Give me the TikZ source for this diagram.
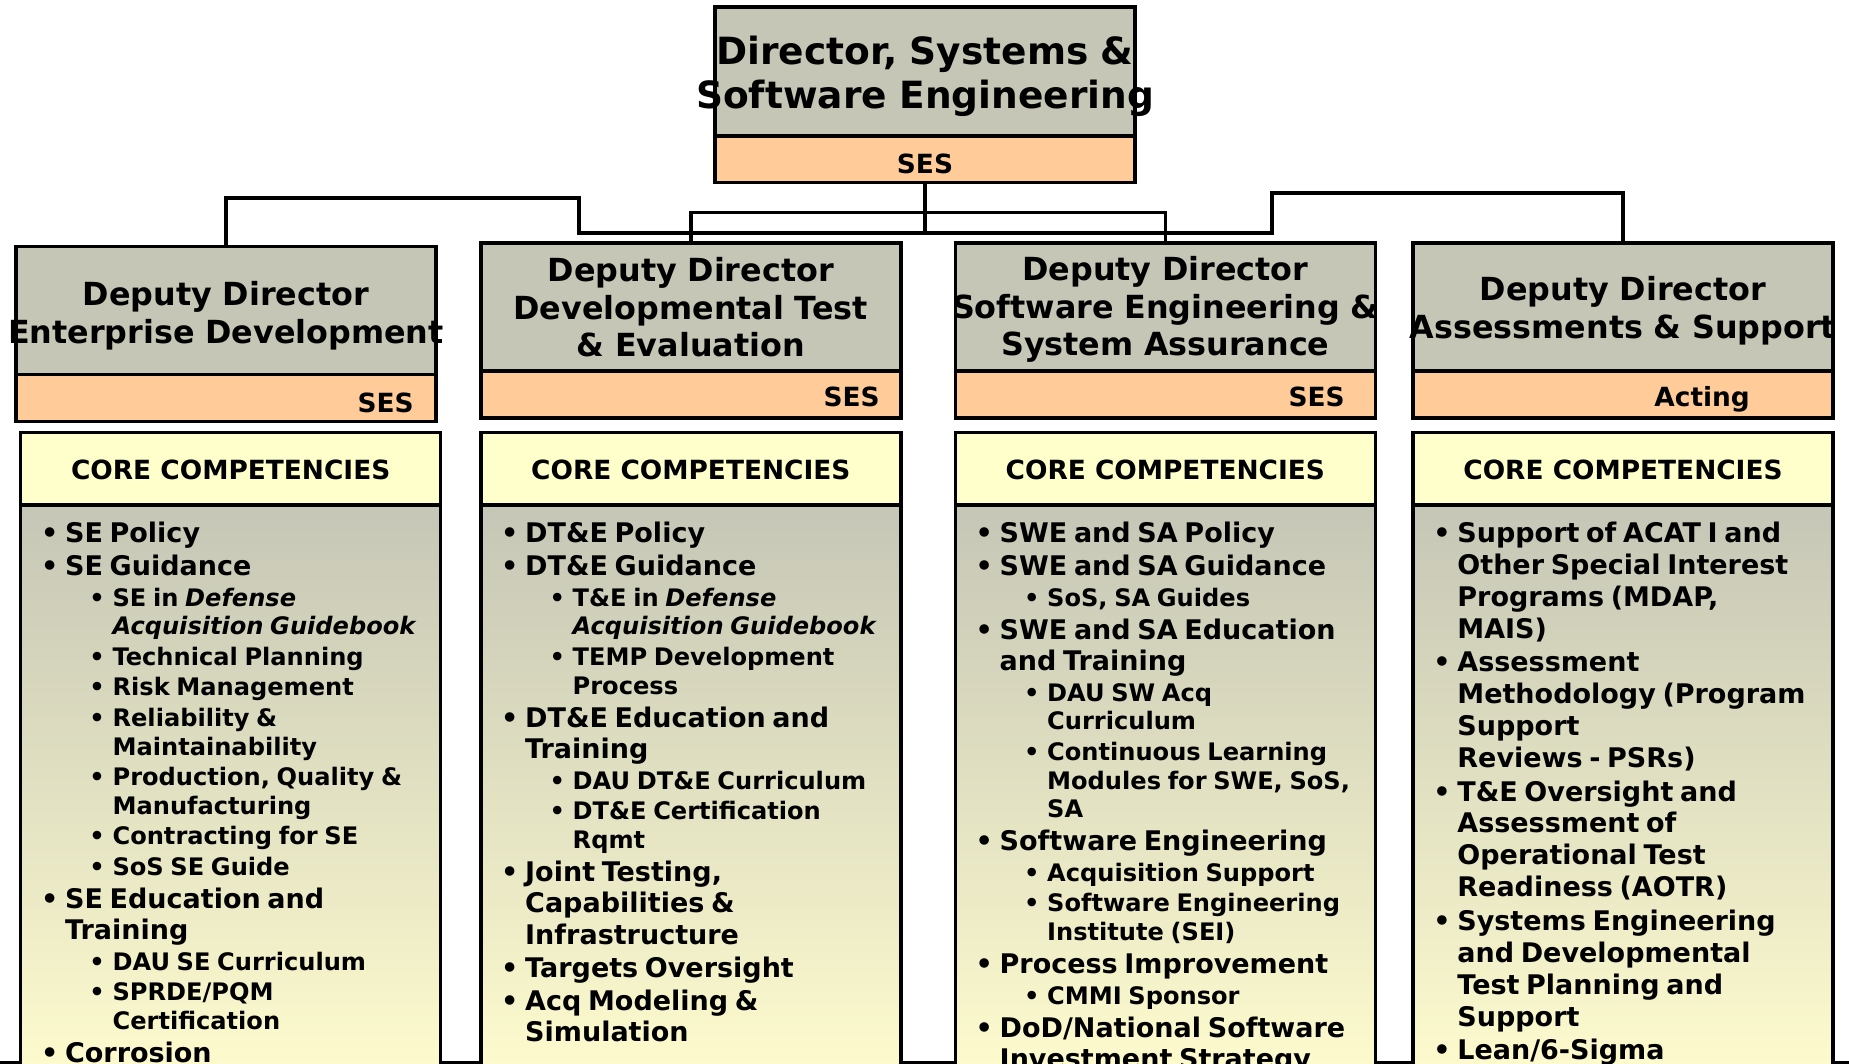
\documentclass[tikz,border=0pt]{standalone}
\usepackage{fontspec}
\setmainfont{DejaVu Sans}
\usetikzlibrary{positioning}

\definecolor{hdgray}{RGB}{197,198,182}
\definecolor{peach}{RGB}{255,204,153}
\definecolor{cream}{RGB}{255,255,204}
\definecolor{paleyel}{RGB}{255,252,206}

% list lines: level one / level two, new item or continued line
\newcommand\skA{16.6pt}
\newcommand\skAc{15.65pt}
\newcommand\lvA[1]{{\fontsize{13.5pt}{\skA}\selectfont\leavevmode\hspace*{10pt}\makebox[12pt][l]{\textbullet}#1\par}}
\newcommand\lvAc[1]{{\fontsize{13.5pt}{\skAc}\selectfont\leavevmode\hspace*{22pt}#1\par}}
\newcommand\lvB[1]{{\fontsize{12.05pt}{15.25pt}\selectfont\leavevmode\hspace*{34.2pt}\makebox[11.55pt][l]{\textbullet}#1\par}}
\newcommand\lvBc[1]{{\fontsize{12.05pt}{14.35pt}\selectfont\leavevmode\hspace*{45.75pt}#1\par}}

\begin{document}
\begin{tikzpicture}[x=0.5pt,y=-0.5pt,
  box/.style={draw,line width=1.75pt,inner sep=0pt,outer sep=0pt,minimum width=210pt},
  namebox/.style={box,fill=hdgray,minimum height=64pt},
  gradebox/.style={box,fill=peach,minimum height=23.5pt,anchor=north},
  corehead/.style={box,fill=cream,minimum height=36.25pt,anchor=north},
  corebody/.style={box,top color=hdgray,bottom color=paleyel,minimum height=290pt,anchor=north},
  link/.style={line width=1.75pt},
  ttl/.style={anchor=base,text width=250pt,align=center,inner sep=0pt,font=\fontsize{15.9pt}{18.8pt}\selectfont\bfseries},
  grade/.style={inner sep=0pt,font=\fontsize{13.2pt}{15pt}\selectfont\bfseries},
  lst/.style={anchor=base west,text width=230pt,align=left,inner sep=0pt,font=\bfseries}]

\useasboundingbox (0,0) rectangle (1849,1064);
\clip (0,0) rectangle (1849,1064);

% rule along the lower edge
\fill (0,1060.5) rectangle (1849,1064);

% director
\node[namebox,minimum height=64.5pt] (dir) at (925,71.5) {};
\node[gradebox,minimum height=23.15pt] (dirg) at (dir.south) {};

% deputies
\node[namebox] (dd1) at (225.9,310.7) {};
\node[namebox] (dd2) at (690.8,307) {};
\node[namebox] (dd3) at (1165.3,307) {};
\node[namebox] (dd4) at (1623,307) {};
\foreach \i in {1,...,4}
  \node[gradebox] (gr\i) at (dd\i.south) {};

% competency panels
\node[corehead] (cc1) at (230.7,432.5) {};
\node[corehead] (cc2) at (690.8,432.5) {};
\node[corehead] (cc3) at (1165.3,432.5) {};
\node[corehead] (cc4) at (1623,432.5) {};
\foreach \i in {1,...,4}
  \node[corebody] (cb\i) at (cc\i.south) {};

% org lines
\coordinate (busL) at (579,233);
\coordinate (busR) at (1272,233);
\coordinate (jL) at (579,198);
\coordinate (jR) at (1272,193);
\draw[link] (dd1.north) |- (jL) -- (busL) -- (busR) -- (jR) -| (dd4.north);
\draw[link] (dirg.south) -- (dirg.south |- busL);
\draw[link] (dd2.north) -- ++(0,-30.3) -| (dd3.north);

% titles
\node[ttl,font=\fontsize{18.75pt}{22.35pt}\selectfont\bfseries] (dirt) at (925,64.3) {Director, Systems \&\\Software Engineering};
\node[grade,anchor=base] (dirs) at (925,173.3) {SES};

\node[ttl] (tt1) at (225.9,306) {Deputy Director\\Enterprise Development};
\node[ttl] (tt2) at (690.8,281.7) {Deputy Director\\Developmental Test\\\& Evaluation};
\node[ttl] (tt3) at (1165.3,280.7) {Deputy Director\\Software Engineering \&\\System Assurance};
\node[ttl] (tt4) at (1623,300.7) {Deputy Director\\Assessments \& Support};

\node[grade,anchor=base east] (gs1) at (414,412.7) {SES};
\node[grade,anchor=base east] (gs2) at (880,406.7) {SES};
\node[grade,anchor=base east] (gs3) at (1345,406.7) {SES};
\node[grade,anchor=base west] (gs4) at (1654,406.7) {Acting};

\foreach \i/\x in {1/230.7,2/690.8,3/1165.3,4/1623}
  \node[grade,anchor=base] (ct\i) at (\x,480) {CORE COMPETENCIES};

% competency lists
\node[lst] (ls1) at (20.7,542.5) {%
  \lvA{SE Policy}
  \lvA{SE Guidance}
  \lvB{SE in \textit{Defense}}
  \lvBc{\textit{Acquisition Guidebook}}
  \lvB{Technical Planning}
  \lvB{Risk Management}
  \lvB{Reliability \&}
  \lvBc{Maintainability}
  \lvB{Production, Quality \&}
  \lvBc{Manufacturing}
  \lvB{Contracting for SE}
  \lvB{SoS SE Guide}
  \lvA{SE Education and}
  \lvAc{Training}
  \lvB{DAU SE Curriculum}
  \lvB{SPRDE/PQM}
  \lvBc{Certification}
  \lvA{Corrosion}};

\node[lst] (ls2) at (480.8,542.5) {%
  \lvA{DT\&E Policy}
  \lvA{DT\&E Guidance}
  \lvB{T\&E in \textit{Defense}}
  \lvBc{\textit{Acquisition Guidebook}}
  \lvB{TEMP Development}
  \lvBc{Process}
  \lvA{DT\&E Education and}
  \lvAc{Training}
  \lvB{DAU DT\&E Curriculum}
  \lvB{DT\&E Certification}
  \lvBc{Rqmt}
  \lvA{Joint Testing,}
  \lvAc{Capabilities \&}
  \lvAc{Infrastructure}
  \lvA{Targets Oversight}
  \lvA{Acq Modeling \&}
  \lvAc{Simulation}};

\node[lst] (ls3) at (955.3,542.5) {%
  \lvA{SWE and SA Policy}
  \lvA{SWE and SA Guidance}
  \lvB{SoS, SA Guides}
  \lvA{SWE and SA Education}
  \lvAc{and Training}
  \lvB{DAU SW Acq}
  \lvBc{Curriculum}
  \lvB{Continuous Learning}
  \lvBc{Modules for SWE, SoS,}
  \lvBc{SA}
  \lvA{Software Engineering}
  \lvB{Acquisition Support}
  \lvB{Software Engineering}
  \lvBc{Institute (SEI)}
  \lvA{Process Improvement}
  \lvB{CMMI Sponsor}
  \lvA{DoD/National Software}
  \lvAc{Investment Strategy}};

\node[lst] (ls4) at (1413,542.5) {%
  \renewcommand\skA{16.8pt}\renewcommand\skAc{15.95pt}%
  \lvA{Support of ACAT I and}
  \lvAc{Other Special Interest}
  \lvAc{Programs (MDAP,}
  \lvAc{MAIS)}
  \lvA{Assessment}
  \lvAc{Methodology (Program}
  \lvAc{Support}
  \lvAc{Reviews - PSRs)}
  \lvA{T\&E Oversight and}
  \lvAc{Assessment of}
  \lvAc{Operational Test}
  \lvAc{Readiness (AOTR)}
  \lvA{Systems Engineering}
  \lvAc{and Developmental}
  \lvAc{Test Planning and}
  \lvAc{Support}
  \lvA{Lean/6-Sigma}};
\end{tikzpicture}
\end{document}
